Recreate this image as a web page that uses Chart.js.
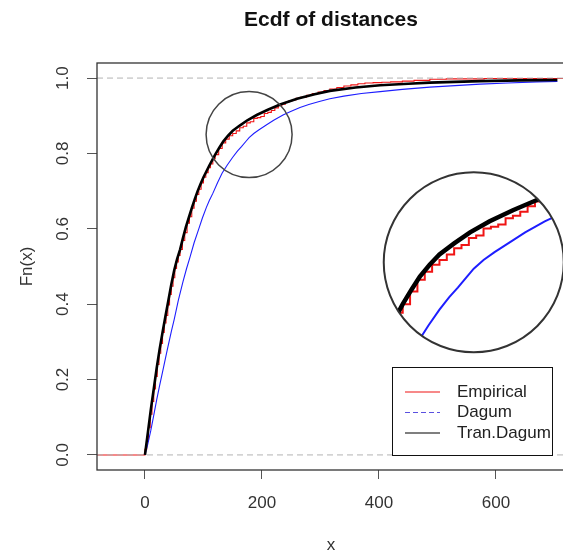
<!DOCTYPE html>
<html>
<head>
<meta charset="utf-8">
<script src="https://cdn.jsdelivr.net/npm/chart.js@4.4.0/dist/chart.umd.min.js"></script>
<style>
  html, body { margin: 0; padding: 0; background: #fff; overflow: hidden; }
  #wrap { width: 600px; height: 560px; }
</style>
</head>
<body>
<div id="wrap"><canvas id="chart" width="600" height="560"></canvas></div>
<script>
/* ========================================
   Ecdf of distances
   ======================================== */
const FONT = '"Liberation Sans", Arial, Helvetica, sans-serif';

// axis ranges and ticks
const xLimits = [-82, 718];
const yLimits = [-0.04, 1.04];
const xTicks = [0, 200, 400, 600];
const yTicks = [0, 0.2, 0.4, 0.6, 0.8, 1.0];

// Empirical (step ecdf)
const empX = [-82, 0, 3, 6, 9, 12, 15, 18, 21, 24, 27, 30, 33, 36, 39, 42, 45, 48, 51, 54, 57, 60, 64, 68, 72, 76, 80, 84, 88, 92, 96, 100, 104, 108, 112, 116, 120, 126, 132, 138, 144, 150, 156, 162, 168, 174, 180, 186, 192, 198, 204, 210, 216, 222, 228, 234, 240, 246, 252, 258, 266, 276, 286, 296, 306, 316, 328, 340, 352, 364, 376, 390, 405, 420, 440, 460, 487, 515, 545, 580, 620, 660, 700, 718];
const empY = [0, 0.015, 0.036, 0.072, 0.108, 0.142, 0.175, 0.208, 0.24, 0.27, 0.296, 0.325, 0.35, 0.37, 0.398, 0.426, 0.448, 0.47, 0.495, 0.512, 0.529, 0.545, 0.569, 0.59, 0.615, 0.632, 0.655, 0.673, 0.691, 0.705, 0.722, 0.737, 0.749, 0.762, 0.772, 0.786, 0.797, 0.813, 0.828, 0.838, 0.847, 0.853, 0.86, 0.868, 0.872, 0.881, 0.884, 0.893, 0.895, 0.898, 0.906, 0.909, 0.914, 0.921, 0.927, 0.931, 0.936, 0.94, 0.942, 0.946, 0.949, 0.954, 0.959, 0.963, 0.967, 0.971, 0.975, 0.979, 0.982, 0.985, 0.987, 0.988, 0.989, 0.99, 0.992, 0.994, 0.997, 0.998, 0.998, 0.999, 0.999, 0.999, 0.999, 0.999];

// Dagum fit
const dagX = [0, 5, 10, 15, 20, 25, 30, 38, 45, 50, 57, 65, 71, 77, 84, 92, 98, 105, 110, 116, 124, 132, 141, 150, 158, 165, 172, 178, 186, 195, 208, 220, 236, 250, 265, 280, 298, 316, 340, 370, 402, 440, 487, 530, 573, 620, 670, 705];
const dagY = [0, 0.03, 0.065, 0.105, 0.146, 0.184, 0.22, 0.278, 0.327, 0.36, 0.41, 0.46, 0.494, 0.525, 0.563, 0.60, 0.628, 0.657, 0.675, 0.694, 0.722, 0.748, 0.77, 0.79, 0.806, 0.818, 0.831, 0.842, 0.853, 0.863, 0.876, 0.888, 0.902, 0.912, 0.922, 0.93, 0.938, 0.945, 0.952, 0.959, 0.964, 0.97, 0.976, 0.98, 0.984, 0.987, 0.99, 0.991];

// Transformed Dagum fit
const tranX = [0, 5, 10, 15, 20, 25, 30, 35, 40, 45, 50, 55, 60, 65, 70, 75, 80, 85, 90, 95, 100, 110, 120, 127, 134, 142, 150, 162, 175, 191, 210, 231, 260, 290, 316, 360, 402, 450, 487, 530, 573, 640, 705];
const tranY = [0, 0.06, 0.12, 0.175, 0.23, 0.28, 0.325, 0.368, 0.41, 0.452, 0.49, 0.52, 0.545, 0.576, 0.605, 0.63, 0.655, 0.678, 0.70, 0.719, 0.737, 0.768, 0.797, 0.815, 0.832, 0.847, 0.86, 0.874, 0.888, 0.902, 0.916, 0.93, 0.945, 0.957, 0.966, 0.975, 0.981, 0.985, 0.988, 0.99, 0.992, 0.994, 0.995];

// reference lines at 0 and 1
const refLevels = [0, 1];

// legend
const legendLabels = ['Empirical', 'Dagum', 'Tran.Dagum'];
const legendColors = ['#f01414', '#5a50e0', '#000000'];
const legendDash = [[], [5, 3], []];

// magnifier: lens centre (data units) and where its enlargement sits
const lensAt = [178, 0.85];
const zoomAt = [562, 0.511];
const lensR = 43, zoomR = 90;

const pts = (xs, ys) => xs.map((v, i) => ({ x: v, y: ys[i] }));

const frame = {
    id: 'frame',
    afterDraw(chart) {
        const { ctx, chartArea: a } = chart;
        ctx.save();
        ctx.strokeStyle = '#333';
        ctx.lineWidth = 1.3;
        ctx.strokeRect(a.left, a.top, a.right - a.left, a.bottom - a.top);
        ctx.restore();
    }
};

const lens = {
    id: 'lens',
    afterDatasetsDraw(chart) {
        const { ctx, scales: { x, y } } = chart;
        const sx = x.getPixelForValue(lensAt[0]), sy = y.getPixelForValue(lensAt[1]);
        const bx = x.getPixelForValue(zoomAt[0]), by = y.getPixelForValue(zoomAt[1]);
        const k = zoomR / lensR;
        ctx.save();
        ctx.beginPath();
        ctx.arc(sx, sy, lensR, 0, Math.PI * 2);
        ctx.strokeStyle = '#444';
        ctx.lineWidth = 1.5;
        ctx.stroke();

        ctx.beginPath();
        ctx.arc(bx, by, zoomR, 0, Math.PI * 2);
        ctx.fillStyle = '#fff';
        ctx.fill();
        ctx.save();
        ctx.clip();
        const sets = chart.data.datasets;
        const idx = sets.map((d, i) => i).sort((a, b) => sets[b].order - sets[a].order);
        idx.forEach(i => {
            const ds = sets[i];
            const els = chart.getDatasetMeta(i).data;
            let prevY = 0;
            ctx.beginPath();
            els.forEach((p, j) => {
                const px = bx + k * (p.x - sx), py = by + k * (p.y - sy);
                if (j === 0) ctx.moveTo(px, py);
                else {
                    if (ds.stepped) ctx.lineTo(px, prevY);
                    ctx.lineTo(px, py);
                }
                prevY = py;
            });
            ctx.strokeStyle = ds.borderColor;
            ctx.lineWidth = ds.zoomWidth;
            ctx.setLineDash(ds.borderDash || []);
            ctx.stroke();
        });
        ctx.restore();
        ctx.beginPath();
        ctx.arc(bx, by, zoomR, 0, Math.PI * 2);
        ctx.strokeStyle = '#333';
        ctx.lineWidth = 2;
        ctx.setLineDash([]);
        ctx.stroke();
        ctx.restore();
    }
};

const legendBox = {
    id: 'legendBox',
    afterDraw(chart) {
        const { ctx } = chart;
        const left = 392, top = 367, w = 160, h = 88;
        ctx.save();
        ctx.fillStyle = '#fff';
        ctx.fillRect(left, top, w, h);
        ctx.strokeStyle = '#111';
        ctx.lineWidth = 1;
        ctx.strokeRect(left + 0.5, top + 0.5, w, h);
        ctx.font = '17px ' + FONT;
        ctx.textBaseline = 'middle';
        ctx.fillStyle = '#222';
        legendLabels.forEach((lab, i) => {
            const yy = top + 25 + i * 20.5;
            ctx.beginPath();
            ctx.moveTo(left + 13, yy);
            ctx.lineTo(left + 48, yy);
            ctx.strokeStyle = legendColors[i];
            ctx.lineWidth = 1.2;
            ctx.setLineDash(legendDash[i]);
            ctx.stroke();
            ctx.fillText(lab, left + 65, yy);
        });
        ctx.restore();
    }
};

const datasets = [
    { label: 'Tran.Dagum', data: pts(tranX, tranY), borderColor: '#000', borderWidth: 2.6, zoomWidth: 4.5, order: 0 },
    { label: 'Dagum', data: pts(dagX, dagY), borderColor: '#1e1eff', borderWidth: 1.1, zoomWidth: 2, order: 1 },
    ...refLevels.map(v => ({ label: '', data: pts(xLimits, [v, v]), borderColor: '#b3b3b3', borderWidth: 1, borderDash: [6, 4], zoomWidth: 1, order: 2 })),
    { label: 'Empirical', data: pts(empX, empY), stepped: true, borderColor: '#f01414', borderWidth: 1.1, zoomWidth: 2, order: 4 }
];

new Chart(document.getElementById('chart'), {
    type: 'line',
    data: { datasets },
    options: {
        responsive: false,
        animation: false,
        elements: { point: { radius: 0 }, line: { tension: 0, fill: false } },
        layout: { padding: { left: 0, right: 35, top: 0, bottom: 0 } },
        plugins: {
            legend: { display: false },
            tooltip: { enabled: false },
            title: {
                display: true, fullSize: false, text: 'Ecdf of distances', color: '#111',
                font: { family: FONT, size: 21, weight: 'bold' },
                padding: { top: 7.4, bottom: 30.4 }
            }
        },
        scales: {
            x: {
                type: 'linear', min: xLimits[0], max: xLimits[1],
                afterBuildTicks: s => { s.ticks = xTicks.map(v => ({ value: v })); },
                afterFit: s => { s.height = 90; },
                grid: { drawOnChartArea: false, tickLength: 9, color: '#555' },
                border: { display: false },
                ticks: { padding: 14, color: '#333', font: { family: FONT, size: 17 }, maxRotation: 0 },
                title: { display: true, text: 'x', color: '#333', font: { family: FONT, size: 17 }, padding: { bottom: 4 } }
            },
            y: {
                type: 'linear', min: yLimits[0], max: yLimits[1],
                afterBuildTicks: s => { s.ticks = yTicks.map(v => ({ value: v })); },
                afterFit: s => { s.width = 97; },
                grid: { drawOnChartArea: false, tickLength: 10, color: '#555' },
                border: { display: false },
                ticks: {
                    padding: 12, color: '#333', font: { family: FONT, size: 17 },
                    minRotation: 90, maxRotation: 90, crossAlign: 'center',
                    callback: v => v.toFixed(1)
                },
                title: { display: true, text: 'Fn(x)', color: '#333', font: { family: FONT, size: 17 }, padding: { top: 17 } }
            }
        }
    },
    plugins: [frame, lens, legendBox]
});
</script>
</body>
</html>
